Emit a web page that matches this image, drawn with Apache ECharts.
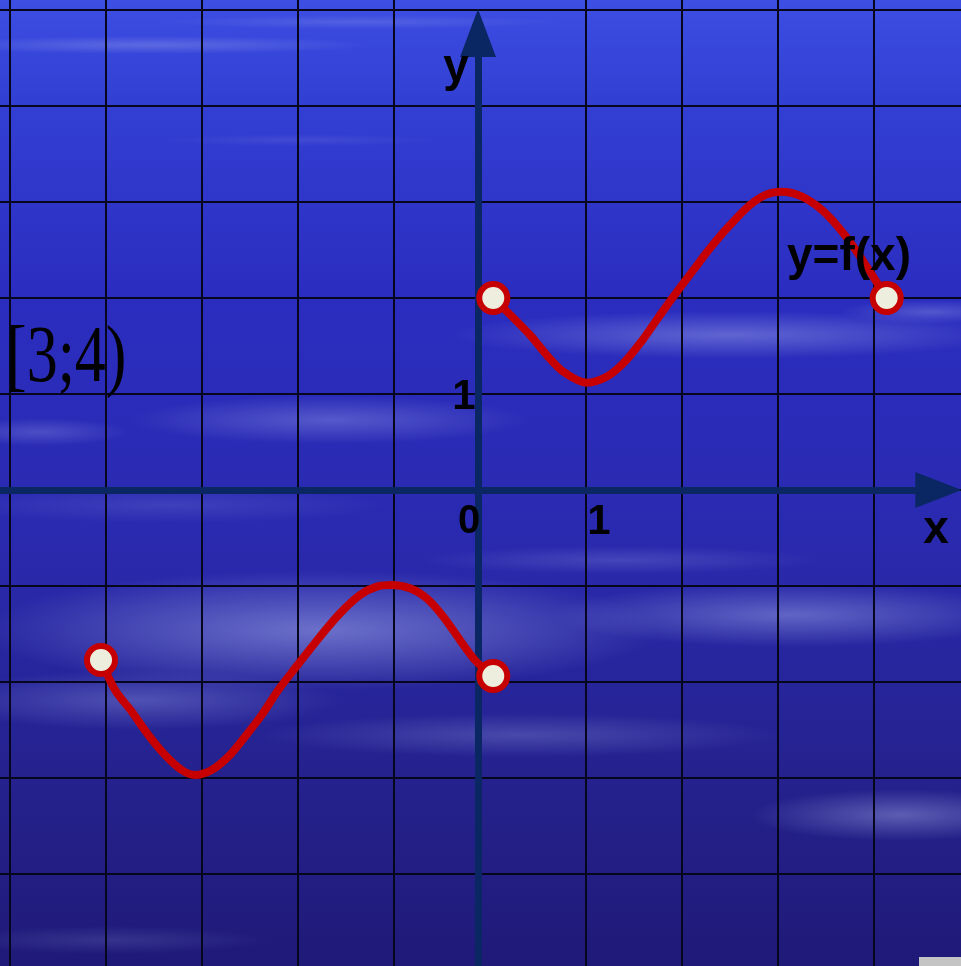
<!DOCTYPE html>
<html>
<head>
<meta charset="utf-8">
<title>y=f(x)</title>
<script src="https://cdn.jsdelivr.net/npm/echarts@6.0.0/dist/echarts.min.js"></script>
<style>
  html, body { margin: 0; padding: 0; background: #2a2ab8; }
  #chart { width: 961px; height: 966px; }
</style>
</head>
<body>
<div id="chart"></div>
<script>
// grid lines (x = 0 has no line in the picture, the axis sits next to it)
var gridX = [-5, -4, -3, -2, -1, 1, 2, 3, 4];

// right branch of y=f(x)
var rightX = [0.034, 0.417, 0.59, 0.764, 1.007, 1.215, 1.389, 1.563, 1.736, 1.91, 2.118,
              2.292, 2.5, 2.708, 2.882, 3.038, 3.229, 3.438, 3.611, 3.785, 3.958, 4.132];
var rightY = [2.0, 1.615, 1.406, 1.232, 1.118, 1.18, 1.32, 1.528, 1.771, 2.014, 2.29,
              2.518, 2.76, 2.969, 3.08, 3.108, 3.066, 2.934, 2.76, 2.535, 2.274, 2.0];

// left branch
var leftX = [-4.052, -3.906, -3.732, -3.559, -3.385, -3.211, -3.073, -2.899, -2.726, -2.552,
             -2.378, -2.205, -2.031, -1.771, -1.563, -1.354, -1.18, -1.024, -0.833, -0.66,
             -0.486, -0.313, -0.15, 0.034];
var leftY = [-1.771, -2.083, -2.309, -2.552, -2.76, -2.917, -2.969, -2.917, -2.778, -2.57,
             -2.344, -2.083, -1.857, -1.528, -1.285, -1.094, -1.007, -0.99, -1.024, -1.128,
             -1.32, -1.563, -1.78, -1.938];

// open (excluded) end points
var openX = [-4.052, 0.034, 0.034, 4.132];
var openY = [-1.771, -1.938, 2.0, 2.0];

function pairs(xs, ys) {
  return xs.map(function (x, i) { return [x, ys[i]]; });
}

var chart = echarts.init(document.getElementById('chart'));

var axisColor = '#0b2763';
var curveColor = '#c60000';

// soft cloud streaks on the blue background
var clouds = [
  [150, 45, 220, 9, 0.3], [360, 22, 200, 7, 0.2], [300, 140, 140, 6, 0.12],
  [730, 335, 280, 24, 0.4], [930, 312, 90, 12, 0.3], [330, 420, 200, 24, 0.32],
  [40, 432, 90, 14, 0.25], [170, 505, 220, 18, 0.15], [320, 630, 340, 60, 0.5],
  [140, 700, 200, 30, 0.3], [790, 615, 240, 32, 0.42], [520, 735, 260, 22, 0.25],
  [900, 815, 150, 26, 0.4], [110, 940, 160, 14, 0.15], [620, 560, 200, 14, 0.2]
];

var graphics = [{
  type: 'rect', z: -100, silent: true,
  shape: { x: 0, y: 0, width: 961, height: 966 },
  style: {
    fill: new echarts.graphic.LinearGradient(0, 0, 0, 1, [
      { offset: 0, color: '#3d4ee2' },
      { offset: 0.1, color: '#3340d4' },
      { offset: 0.3, color: '#2b2dc0' },
      { offset: 0.55, color: '#2a2ab0' },
      { offset: 0.8, color: '#25228e' },
      { offset: 1, color: '#1f1a78' }
    ])
  }
}];
clouds.forEach(function (c) {
  graphics.push({
    type: 'circle', z: -90, silent: true,
    x: c[0], y: c[1], scaleX: c[2] / 100, scaleY: c[3] / 100,
    shape: { cx: 0, cy: 0, r: 100 },
    style: {
      fill: new echarts.graphic.RadialGradient(0.5, 0.5, 0.5, [
        { offset: 0, color: 'rgba(175,185,240,' + c[4] + ')' },
        { offset: 1, color: 'rgba(175,185,240,0)' }
      ])
    }
  });
});

function label(text, x, y, size) {
  return {
    type: 'text', z: 100, silent: true, x: x, y: y,
    style: {
      text: text, fill: '#000',
      fontFamily: 'Liberation Sans', fontWeight: 'bold', fontSize: size,
      align: 'center', verticalAlign: 'middle'
    }
  };
}
graphics.push(label('y', 456, 68, 46));
graphics.push(label('x', 936, 530, 46));
graphics.push(label('0', 469, 522, 40));
graphics.push(label('1', 599, 522, 42));
graphics.push(label('1', 464, 397, 42));
graphics.push(label('y=f(x)', 849, 257, 46));
graphics.push({
  type: 'text', z: 100, silent: true, x: 6, y: 360, scaleY: 1.3,
  style: {
    text: '[3;4)', fill: '#000',
    fontFamily: 'Liberation Serif', fontSize: 62,
    align: 'left', verticalAlign: 'middle'
  }
});
graphics.push({
  type: 'rect', z: 100, silent: true,
  shape: { x: 919, y: 957, width: 42, height: 9 },
  style: { fill: '#c4c4c4' }
});

option = {
  animation: false,
  grid: { left: -86, right: -9, top: -86, bottom: -4, containLabel: false, outerBoundsMode: 'none' },
  xAxis: {
    type: 'value', min: -6, max: 5, interval: 1,
    axisLine: { show: false }, axisTick: { show: false },
    axisLabel: { show: false }, splitLine: { show: false }
  },
  yAxis: {
    type: 'value', min: -5, max: 6, interval: 1,
    axisLine: { show: false }, axisTick: { show: false }, axisLabel: { show: false },
    splitLine: { show: true, lineStyle: { color: '#06061c', width: 2 } }
  },
  graphic: graphics,
  series: [
    {
      name: 'grid', type: 'line', data: [], silent: true,
      markLine: {
        z: 1, silent: true, symbol: 'none', label: { show: false },
        lineStyle: { color: '#06061c', width: 2, type: 'solid' },
        emphasis: { disabled: true },
        data: gridX.map(function (v) { return { xAxis: v }; })
      }
    },
    {
      name: 'axes', type: 'line', data: [], silent: true,
      markLine: {
        z: 3, silent: true, label: { show: false },
        lineStyle: { color: axisColor, width: 7, type: 'solid' },
        itemStyle: { color: axisColor },
        emphasis: { disabled: true },
        symbol: ['none', 'triangle'],
        data: [
          [{ coord: [-5.3, 0], symbol: 'none' },
           { coord: [4.67, 0], symbol: 'triangle', symbolSize: [36, 46] }],
          [{ coord: [-0.125, -5], symbol: 'none' },
           { coord: [-0.125, 4.76], symbol: 'triangle', symbolSize: [36, 48] }]
        ]
      }
    },
    {
      name: 'left', type: 'line', z: 4, smooth: 0.3, showSymbol: false, symbol: 'none',
      lineStyle: { color: curveColor, width: 8 },
      data: pairs(leftX, leftY)
    },
    {
      name: 'right', type: 'line', z: 4, smooth: 0.3, showSymbol: false, symbol: 'none',
      lineStyle: { color: curveColor, width: 8 },
      data: pairs(rightX, rightY)
    },
    {
      name: 'open', type: 'scatter', z: 5, symbol: 'circle', symbolSize: 28,
      itemStyle: { color: '#eeeede', borderColor: curveColor, borderWidth: 6, opacity: 1 },
      data: pairs(openX, openY)
    }
  ]
};
chart.setOption(option);
</script>
</body>
</html>
